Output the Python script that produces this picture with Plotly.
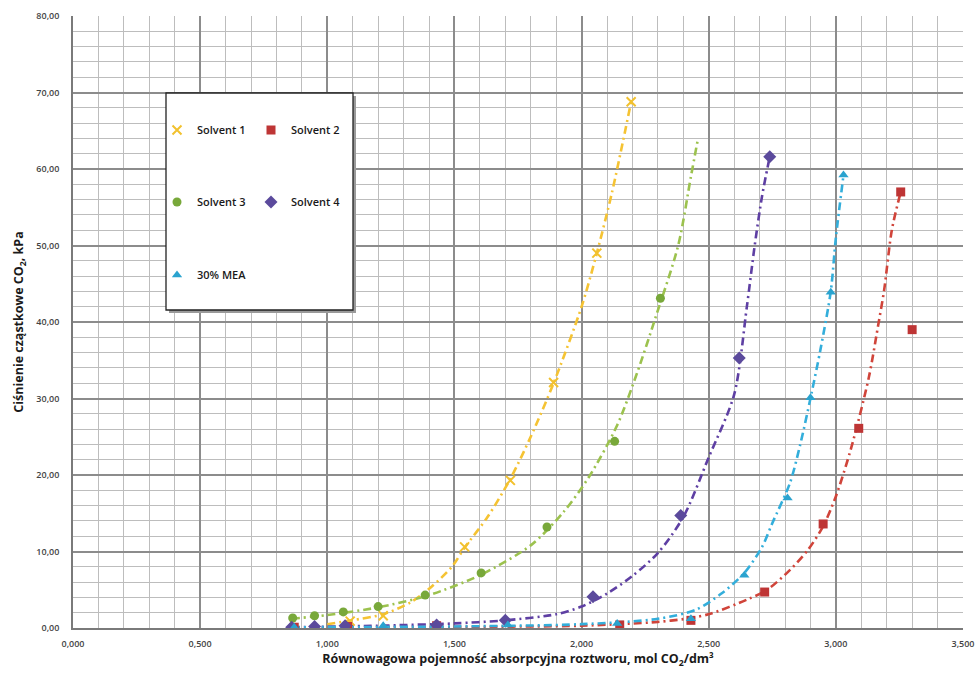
import plotly.graph_objects as go

# --- measured equilibrium points (x: mol CO2/dm3, y: kPa) ---
s1_x = [1.09, 1.22, 1.54, 1.72, 1.89, 2.06, 2.195]
s1_y = [0.9, 1.6, 10.6, 19.3, 32.1, 49.0, 68.8]

s2_x = [0.87, 1.08, 1.43, 2.15, 2.43, 2.72, 2.95, 3.09, 3.255, 3.30]
s2_y = [0.1, 0.2, 0.3, 0.4, 1.0, 4.7, 13.6, 26.1, 57.0, 39.0]

s3_x = [0.864, 0.95, 1.063, 1.20, 1.385, 1.605, 1.864, 2.13, 2.31]
s3_y = [1.3, 1.6, 2.1, 2.8, 4.3, 7.2, 13.2, 24.4, 43.1]

s4_x = [0.86, 0.95, 1.07, 1.43, 1.70, 2.045, 2.39, 2.62, 2.74]
s4_y = [0.1, 0.2, 0.3, 0.4, 1.0, 4.1, 14.7, 35.3, 61.6]

mea_x = [0.87, 1.22, 1.71, 2.14, 2.43, 2.64, 2.81, 2.90, 2.98, 3.03]
mea_y = [0.1, 0.3, 0.4, 0.6, 1.2, 6.9, 17.0, 30.1, 43.9, 59.2]

# --- trend curves (dash-dot) ---
s1_fit_x = [1.0, 1.095, 1.22, 1.33, 1.41, 1.49, 1.54, 1.63, 1.72, 1.80, 1.89, 2.0, 2.06, 2.12, 2.195]
s1_fit_y = [0.5, 1.0, 1.8, 3.4, 5.4, 8.0, 10.5, 14.5, 19.5, 25.0, 32.0, 42.0, 49.0, 57.0, 68.8]

s2_fit_x = [0.86, 1.5, 2.0, 2.3, 2.43, 2.51, 2.65, 2.73, 2.82, 2.89, 2.95, 3.0, 3.06, 3.13, 3.165, 3.19, 3.22, 3.255]
s2_fit_y = [0.1, 0.15, 0.3, 0.8, 1.3, 1.9, 3.7, 5.0, 7.6, 10.2, 13.3, 17.2, 23.5, 32.8, 39.3, 44.2, 52.0, 57.0]

s3_fit_x = [0.86, 1.0, 1.2, 1.4, 1.6, 1.8, 1.93, 2.03, 2.14, 2.22, 2.29, 2.38, 2.43, 2.458]
s3_fit_y = [1.2, 1.7, 2.7, 4.3, 6.9, 10.8, 15.2, 19.8, 26.5, 33.5, 40.5, 50.0, 59.0, 64.0]

s4_fit_x = [0.86, 1.2, 1.5, 1.7, 1.9, 2.0, 2.1, 2.2, 2.3, 2.4, 2.5, 2.6, 2.65, 2.68, 2.71, 2.74]
s4_fit_y = [0.1, 0.3, 0.6, 1.0, 1.8, 2.8, 4.5, 6.8, 9.8, 14.5, 22.3, 30.5, 42.0, 49.8, 56.5, 61.6]

mea_fit_x = [0.86, 1.5, 2.0, 2.3, 2.45, 2.55, 2.64, 2.71, 2.75, 2.82, 2.86, 2.90, 2.94, 2.98, 3.0, 3.03]
mea_fit_y = [0.1, 0.2, 0.5, 1.2, 2.4, 4.5, 7.2, 10.6, 13.7, 19.0, 24.0, 30.0, 36.5, 44.0, 51.0, 59.2]

names = ["Solvent 1", "Solvent 2", "Solvent 3", "Solvent 4", "30% MEA"]
marker_colors = ["#F2C12E", "#BE3535", "#78A83A", "#5B4A9C", "#2AA3CF"]
line_colors = ["#F5C333", "#D0443A", "#9CC24E", "#5E3FA3", "#33AEDB"]
symbols = ["x-thin-open", "square", "circle", "diamond", "triangle-up"]
legend_ids = ["legend", "legend", "legend2", "legend2", "legend3"]

points = [(s1_x, s1_y), (s2_x, s2_y), (s3_x, s3_y), (s4_x, s4_y), (mea_x, mea_y)]
fits = [(s1_fit_x, s1_fit_y), (s2_fit_x, s2_fit_y), (s3_fit_x, s3_fit_y),
        (s4_fit_x, s4_fit_y), (mea_fit_x, mea_fit_y)]

fig = go.Figure()

for i, (fx, fy) in enumerate(fits):
    fig.add_trace(go.Scatter(
        x=fx, y=fy, mode="lines", showlegend=False, hoverinfo="skip",
        line=dict(color=line_colors[i], width=2.6, dash="8px,4px,2px,4px",
                  shape="spline", smoothing=0.8),
    ))

for i, (px, py) in enumerate(points):
    if symbols[i] == "x-thin-open":
        mk = dict(symbol="x-thin-open", size=9, color=marker_colors[i],
                  line=dict(color=marker_colors[i], width=2))
    else:
        mk = dict(symbol=symbols[i], size=9 if symbols[i] != "diamond" else 10,
                  color=marker_colors[i], line=dict(width=0))
    fig.add_trace(go.Scatter(
        x=px, y=py, mode="markers", name=names[i], marker=mk,
        legend=legend_ids[i],
    ))

# plot area in pixels: x 73..963, y 16..628
L, R, T, B = 73, 17, 16, 47
W, H = 980, 675
pw, ph = W - L - R, H - T - B


def px_x(p):
    return (p - L) / pw


def px_y(p):
    return (H - B - p) / ph


FONT = "Open Sans, Arial, sans-serif"
legend_font = dict(family=FONT, size=11, color="#1a1a1a", weight=600)
common_legend = dict(orientation="h", bgcolor="rgba(0,0,0,0)", borderwidth=0,
                     font=legend_font, entrywidth=49, entrywidthmode="pixels",
                     xanchor="left", yanchor="middle", itemclick=False,
                     itemdoubleclick=False, tracegroupgap=0)

fig.update_layout(
    width=W, height=H,
    margin=dict(l=L, r=R, t=T, b=B),
    paper_bgcolor="white", plot_bgcolor="white",
    separators=", ",
    font=dict(family=FONT, color="#333333"),
    legend=dict(x=px_x(157), y=px_y(130), **common_legend),
    legend2=dict(x=px_x(157), y=px_y(202), **common_legend),
    legend3=dict(x=px_x(157), y=px_y(275), **common_legend),
    shapes=[
        dict(type="rect", xref="paper", yref="paper", layer="above",
             x0=px_x(169), x1=px_x(356), y0=px_y(313), y1=px_y(96),
             fillcolor="#9a9a9a", line=dict(width=0)),
        dict(type="rect", xref="paper", yref="paper", layer="above",
             x0=px_x(166), x1=px_x(353), y0=px_y(310), y1=px_y(93),
             fillcolor="white", line=dict(color="#222222", width=1.3)),
    ],
)

fig.update_xaxes(
    range=[0, 3.5], dtick=0.5, tick0=0, tickformat=".3f", automargin=False,
    showgrid=True, gridcolor="#8c8c8c", gridwidth=1.6,
    minor=dict(dtick=0.1, showgrid=True, gridcolor="#bdbdbd", gridwidth=1.4),
    showline=True, linecolor="#7a7a7a", linewidth=1.6, mirror=False,
    zeroline=False, ticks="", ticklen=0, ticklabelstandoff=6,
    tickfont=dict(size=9, color="#444444", family=FONT, weight=600),
    title=dict(text="Równowagowa pojemność absorpcyjna roztworu, mol CO<sub>2</sub>/dm³",
               font=dict(size=12.5, color="#1a1a1a", family=FONT, weight="bold"),
               standoff=6),
)
fig.update_yaxes(
    range=[0, 80], dtick=10, tick0=0, tickformat=".2f", automargin=False,
    showgrid=True, gridcolor="#8c8c8c", gridwidth=1.6,
    minor=dict(dtick=2, showgrid=True, gridcolor="#bdbdbd", gridwidth=1.4),
    showline=True, linecolor="#7a7a7a", linewidth=1.6,
    zeroline=False, ticks="", ticklen=0, ticklabelstandoff=10,
    tickfont=dict(size=9, color="#444444", family=FONT, weight=600),
    title=dict(text="Ciśnienie cząstkowe CO<sub>2</sub>, kPa",
               font=dict(size=12.5, color="#1a1a1a", family=FONT, weight="bold"),
               standoff=10),
)

fig.write_html("out.html")
